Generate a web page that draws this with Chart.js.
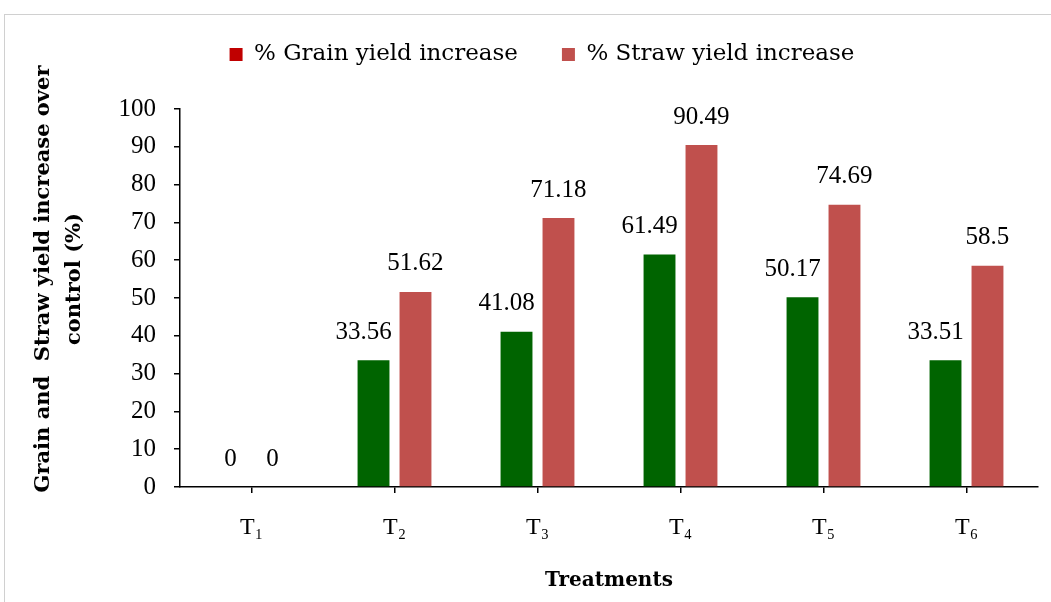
<!DOCTYPE html>
<html lang="en">
<head>
<meta charset="UTF-8">
<title>Grain and straw yield increase</title>
<script src="https://cdn.jsdelivr.net/npm/chart.js"></script>
<style>
    html, body { margin: 0; padding: 0; background: #fff; }
    #wrap { position: relative; width: 1051px; height: 602px; overflow: hidden; }
    #frame {
        position: absolute; left: 4px; top: 14px; width: 1100px; height: 700px;
        border-top: 1px solid #d0d0d0; border-left: 1px solid #d0d0d0;
    }
    canvas { position: absolute; left: 0; top: 0; }
</style>
</head>
<body>
<div id="wrap">
    <div id="frame"></div>
    <canvas id="chart" width="1051" height="602"></canvas>
</div>
<script>
const categories = ['T\u2081', 'T\u2082', 'T\u2083', 'T\u2084', 'T\u2085', 'T\u2086'];
const grainIncrease = [0, 33.56, 41.08, 61.49, 50.17, 33.51];
const strawIncrease = [0, 51.62, 71.18, 90.49, 74.69, 58.5];
const seriesNames = ['% Grain yield increase', '% Straw yield increase'];
const yTitleLines = ['Grain and  Straw yield increase over', 'control (%)'];

const numFont = { family: '"Liberation Serif", serif', size: 25 };
const textFont = { family: '"DejaVu Serif", serif', size: 23 };

// value labels above the bars
const barLabels = {
    id: 'barLabels',
    afterDatasetsDraw(chart) {
        const ctx = chart.ctx;
        ctx.save();
        ctx.font = `${numFont.size}px ${numFont.family}`;
        ctx.fillStyle = '#000';
        ctx.textAlign = 'center';
        ctx.textBaseline = 'middle';
        chart.data.datasets.forEach((ds, i) => {
            chart.getDatasetMeta(i).data.forEach((bar, j) => {
                const v = ds.data[j];
                const dx = (i === 0 && v > 0) ? -10 : 0;
                ctx.fillText(String(v), bar.x + dx, bar.y - 28);
            });
        });
        ctx.restore();
    }
};

// y title sits a bit above the plot centre in the original, so draw it by hand
const yTitle = {
    id: 'yTitle',
    afterDraw(chart) {
        const ctx = chart.ctx;
        const cy = chart.chartArea.top + (chart.chartArea.bottom - chart.chartArea.top) / 2 - 19;
        ctx.save();
        ctx.font = 'bold 21px "DejaVu Serif", serif';
        ctx.fillStyle = '#000';
        ctx.textAlign = 'center';
        ctx.textBaseline = 'middle';
        yTitleLines.forEach((line, i) => {
            ctx.save();
            ctx.translate(44 + i * 31, cy);
            ctx.rotate(-Math.PI / 2);
            ctx.fillText(line, 0, 0);
            ctx.restore();
        });
        ctx.restore();
    }
};

// legend sits higher and a little right of centre in the original
const legendShift = {
    id: 'legendShift',
    afterLayout(chart) {
        const lg = chart.legend;
        lg.left += 23;
        lg.right += 23;
        lg.top -= 33;
        lg.bottom -= 33;
    }
};

new Chart(document.getElementById('chart'), {
    type: 'bar',
    data: {
        labels: categories,
        datasets: [{
            label: seriesNames[0],
            data: grainIncrease,
            backgroundColor: '#006400',
            categoryPercentage: 0.587,
            barPercentage: 0.76
        }, {
            label: seriesNames[1],
            data: strawIncrease,
            backgroundColor: '#C0504D',
            categoryPercentage: 0.587,
            barPercentage: 0.76
        }]
    },
    options: {
        responsive: false,
        animation: false,
        devicePixelRatio: 1,
        layout: { padding: { top: 1, right: 13, left: 0, bottom: 0 } },
        plugins: {
            tooltip: { enabled: false },
            legend: {
                position: 'top',
                labels: {
                    boxWidth: 13,
                    boxHeight: 13,
                    padding: 44,
                    color: '#000',
                    font: textFont,
                    generateLabels(chart) {
                        return chart.data.datasets.map((ds, i) => ({
                            text: ds.label,
                            fillStyle: i === 0 ? '#C00000' : ds.backgroundColor,
                            strokeStyle: 'transparent',
                            lineWidth: 0,
                            hidden: false,
                            datasetIndex: i
                        }));
                    }
                }
            }
        },
        scales: {
            x: {
                afterFit(s) { s.height = 115; },
                grid: {
                    offset: false,
                    drawOnChartArea: false,
                    drawTicks: true,
                    tickLength: 6,
                    color: '#000',
                    lineWidth: 1.5
                },
                border: { display: true, color: '#000', width: 1.5 },
                ticks: { color: '#000', font: { family: numFont.family, size: 24 }, padding: 20 },
                title: {
                    display: true,
                    text: 'Treatments',
                    color: '#000',
                    font: { family: '"DejaVu Serif", serif', size: 20, weight: 'bold' },
                    padding: { top: 0, bottom: 9 }
                }
            },
            y: {
                min: 0,
                max: 100,
                afterFit(s) {
                    s.width = 180;
                    s.paddingTop = 109; // push plot top down below the legend
                },
                grid: {
                    drawOnChartArea: false,
                    drawTicks: true,
                    tickLength: 6,
                    color: '#000',
                    lineWidth: 1.5
                },
                border: { display: true, color: '#000', width: 1.5 },
                ticks: { stepSize: 10, color: '#000', font: numFont, padding: 18 }
            }
        }
    },
    plugins: [barLabels, yTitle, legendShift]
});
</script>
</body>
</html>
